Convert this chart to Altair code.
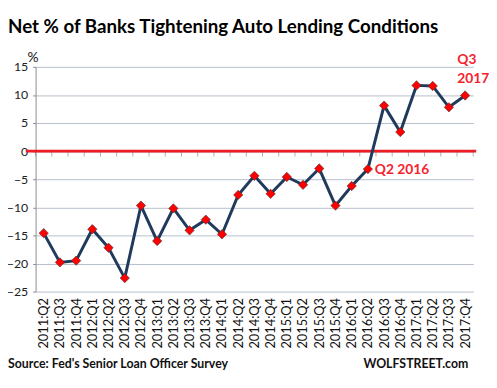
import json
import altair as alt
import pandas as pd

quarters = [
    "2011:Q2", "2011:Q3", "2011:Q4",
    "2012:Q1", "2012:Q2", "2012:Q3", "2012:Q4",
    "2013:Q1", "2013:Q2", "2013:Q3", "2013:Q4",
    "2014:Q1", "2014:Q2", "2014:Q3", "2014:Q4",
    "2015:Q1", "2015:Q2", "2015:Q3", "2015:Q4",
    "2016:Q1", "2016:Q2", "2016:Q3", "2016:Q4",
    "2017:Q1", "2017:Q2", "2017:Q3", "2017:Q4",
]
net_pct = [
    -14.6, -19.8, -19.5,
    -13.9, -17.2, -22.6, -9.7,
    -16.0, -10.2, -14.1, -12.2,
    -14.8, -7.8, -4.4, -7.6,
    -4.6, -6.0, -3.1, -9.7,
    -6.2, -3.2, 8.1, 3.4,
    11.7, 11.6, 7.8, 9.9,
]
y_ticks = [-25, -20, -15, -10, -5, 0, 5, 10, 15]
annot_mid = {"label": "Q2 2016", "quarter": "2016:Q2"}
annot_end = {"label": "Q3\n2017", "quarter": "2017:Q4"}

FONT = "Lato"
NAVY = "#1f3a5c"
RED = "#ff0000"
ANN_RED = "#f5222d"

df = pd.DataFrame({"quarter": quarters, "value": net_pct})
df["idx"] = range(len(df))
# category boundaries along the zero line (for the small tick marks)
bounds = pd.DataFrame({"idx": [i - 0.5 for i in range(len(quarters) + 1)], "value": 0.0})

W, H = 444, 228
label_expr = json.dumps(quarters) + "[datum.value]"

x_enc = alt.X(
    "idx:Q",
    scale=alt.Scale(domain=[-0.5, len(quarters) - 0.5], nice=False, zero=False),
    axis=alt.Axis(
        values=list(range(len(quarters))), labelExpr=label_expr, labelAngle=-90,
        grid=False, domain=False, ticks=False, labelPadding=6, labelFont=FONT,
        labelFontSize=13, labelColor="#111", labelOverlap=False, labelFlush=False,
        labelBound=False, title=None,
    ),
)
y_enc = alt.Y(
    "value:Q",
    scale=alt.Scale(domain=[-25, 15], nice=False),
    axis=alt.Axis(
        values=y_ticks, grid=True, gridColor="#b6bfcb", gridWidth=1,
        domainColor="#8c8c8c", tickColor="#8c8c8c", tickSize=3,
        labelFont=FONT, labelFontSize=12.5, labelColor="#222", labelPadding=5,
        title="%", titleAngle=0, titleFont=FONT, titleFontSize=14,
        titleFontWeight="normal", titleColor="#111", titleX=-3, titleY=-5,
        titleAlign="center", titleBaseline="alphabetic",
    ),
)

base = alt.Chart(df)

ticks = alt.Chart(bounds).mark_tick(
    orient="vertical", size=7, thickness=1, color="#8c8c8c", yOffset=2
).encode(x=x_enc, y=y_enc)

zero_rule = alt.Chart(bounds).transform_filter("datum.idx == -0.5").mark_rule(
    color="#ee1c25", strokeWidth=3
).encode(y=y_enc, x=alt.value(-10), x2=alt.value(W + 3))

line = base.mark_line(color=NAVY, strokeWidth=3).encode(x=x_enc, y=y_enc)
points = base.mark_point(
    shape="diamond", filled=True, fill=RED, size=90, stroke="#3a3a3a",
    strokeWidth=0.6, opacity=1,
).encode(x=x_enc, y=y_enc)

ann1 = base.transform_filter(
    alt.datum.quarter == annot_mid["quarter"]
).mark_text(
    align="left", baseline="middle", dx=7, dy=1, font=FONT, fontSize=14,
    fontWeight="bold", color=ANN_RED,
).encode(x=x_enc, y=y_enc, text=alt.value(annot_mid["label"]))

ann2 = base.transform_filter(
    alt.datum.quarter == annot_end["quarter"]
).mark_text(
    align="left", baseline="alphabetic", dx=-8, dy=-32, font=FONT, fontSize=14,
    fontWeight="bold", color=ANN_RED, lineBreak="\n", lineHeight=19,
).encode(x=x_enc, y=y_enc, text=alt.value(annot_end["label"]))

source = alt.Chart(df).transform_filter("datum.idx == 0").mark_text(
    align="left", baseline="middle", font=FONT, fontSize=12.5, fontWeight="bold",
    color="#111",
).encode(x=alt.value(-28), y=alt.value(H + 74),
         text=alt.value("Source: Fed's Senior Loan Officer Survey"))

brand = alt.Chart(df).transform_filter("datum.idx == 0").mark_text(
    align="right", baseline="middle", font=FONT, fontSize=12.5, fontWeight="bold",
    color="#111",
).encode(x=alt.value(439), y=alt.value(H + 74), text=alt.value("WOLFSTREET.com"))

chart = alt.layer(ticks, zero_rule, line, points, ann1, ann2, source, brand).properties(
    width=W, height=H,
    title=alt.TitleParams(
        "Net % of Banks Tightening Auto Lending Conditions",
        font=FONT, fontSize=19, fontWeight="bold", color="#000",
        anchor="start", frame="group", dx=-28, offset=14,
    ),
    autosize=alt.AutoSizeParams(type="none"),
    padding={"left": 28, "top": 57, "right": 16, "bottom": 87},
).configure_view(stroke=None)

chart.save("out.html", embed_options={"renderer": "svg", "actions": False})
